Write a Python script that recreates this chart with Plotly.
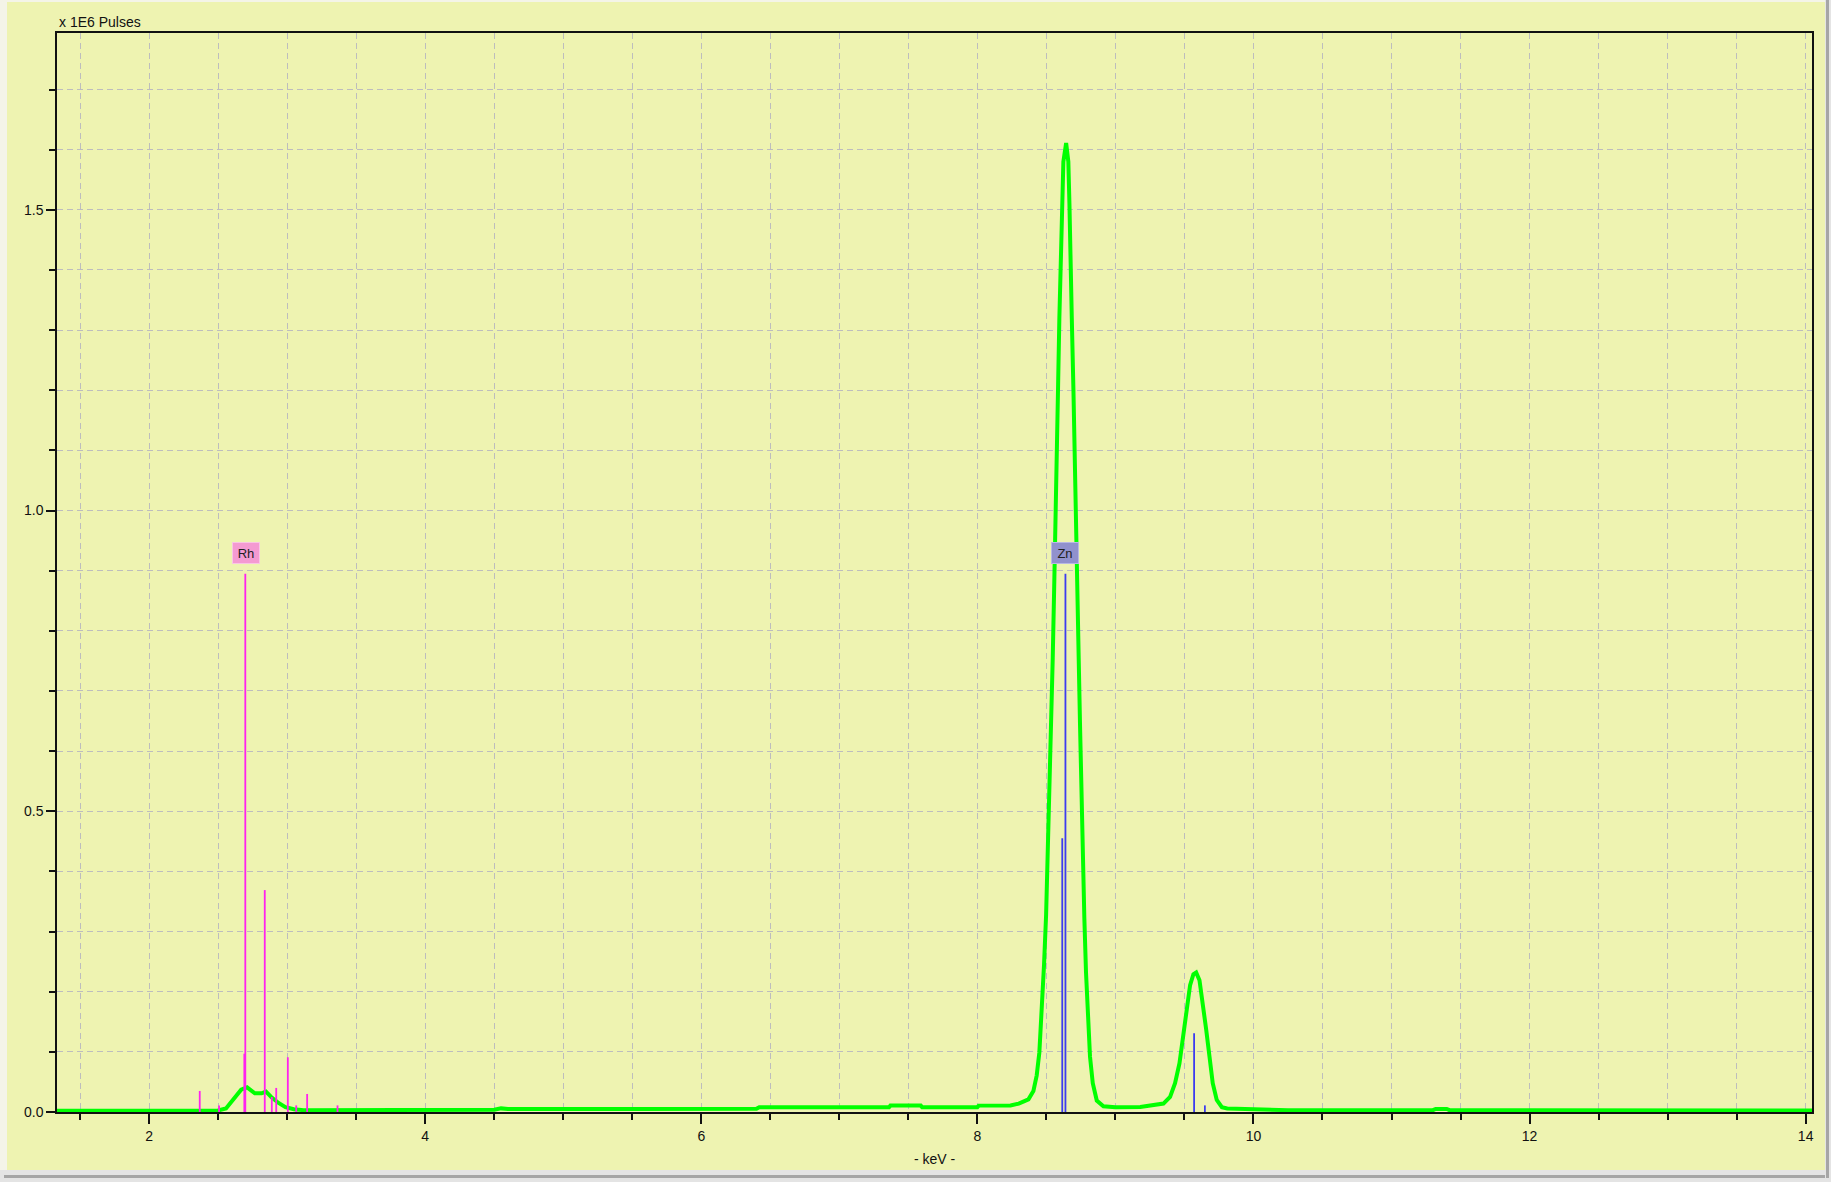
import plotly.graph_objects as go

# ---- data (values in units of 1E6 pulses) ----
spec_kev = [1.333, 2.0, 2.50, 2.557, 2.606, 2.667, 2.71, 2.766, 2.815, 2.847, 2.889, 2.938, 2.988,
            3.049, 3.12, 3.6, 4.2, 4.5, 4.55, 4.6, 5.5, 6.0, 6.4, 6.42, 6.7, 7.36, 7.37, 7.59, 7.60,
            8.0, 8.01, 8.24, 8.30, 8.37, 8.406, 8.430, 8.449, 8.466, 8.483, 8.498, 8.510, 8.522,
            8.534, 8.546, 8.558, 8.564, 8.572, 8.585, 8.594, 8.604, 8.611, 8.623, 8.643, 8.659,
            8.667, 8.672, 8.684, 8.696, 8.705, 8.713, 8.724, 8.734, 8.744, 8.754, 8.763, 8.775,
            8.787, 8.800, 8.816, 8.836, 8.865, 8.913, 9.0, 9.18, 9.275, 9.348, 9.396, 9.432, 9.464,
            9.488, 9.512, 9.541, 9.565, 9.585, 9.609, 9.633, 9.657, 9.681, 9.705, 9.734, 9.771,
            9.81, 9.98, 10.2, 10.25, 11.30, 11.32, 11.40, 11.42, 14.05]
spec_counts = [0.002, 0.002, 0.0025, 0.006, 0.019, 0.037, 0.041, 0.031, 0.031, 0.034, 0.024, 0.015, 0.008,
               0.0045, 0.003, 0.003, 0.0035, 0.0037, 0.006, 0.005, 0.005, 0.0052, 0.0055, 0.008, 0.0078,
               0.0079, 0.0106, 0.0106, 0.0078, 0.0080, 0.0106, 0.011, 0.014, 0.021, 0.035, 0.061, 0.099,
               0.162, 0.245, 0.328, 0.424, 0.519, 0.627, 0.755, 0.889, 0.98, 1.08, 1.21, 1.32, 1.42, 1.51,
               1.58, 1.611, 1.58, 1.51, 1.43, 1.32, 1.20, 1.07, 1.0, 0.889, 0.755, 0.640, 0.525, 0.424,
               0.322, 0.232, 0.162, 0.092, 0.048, 0.019, 0.0096, 0.008, 0.0084, 0.011, 0.014, 0.025,
               0.048, 0.081, 0.121, 0.166, 0.211, 0.229, 0.232, 0.219, 0.183, 0.138, 0.093, 0.048,
               0.020, 0.008, 0.006, 0.005, 0.004, 0.003, 0.003, 0.005, 0.005, 0.003, 0.0025]

rh_kev = [2.367, 2.507, 2.690, 2.697, 2.838, 2.889, 2.921, 3.005, 3.066, 3.145, 3.365]
rh_height = [0.035, 0.011, 0.097, 0.895, 0.369, 0.025, 0.040, 0.091, 0.011, 0.030, 0.011]

zn_kev = [8.615, 8.638, 9.570, 9.648]
zn_height = [0.455, 0.895, 0.131, 0.011]

element_labels = ["Rh", "Zn"]
element_label_kev = [2.70, 8.636]

x_tick_vals = [2, 4, 6, 8, 10, 12, 14]
y_tick_vals = [0.0, 0.5, 1.0, 1.5]

# ---- figure ----
W, H = 1831, 1182
ML, MR, MT, MB = 57, 19, 33, 70
PW, PH = W - ML - MR, H - MT - MB


def px_x(p):
    return (p - ML) / PW


def px_y(p):
    return (H - MB - p) / PH


def stems(xs, hs):
    X, Y = [], []
    for x, h in zip(xs, hs):
        X += [x, x, None]
        Y += [0, h, None]
    return X, Y


fig = go.Figure()
fig.add_trace(go.Scatter(x=spec_kev, y=spec_counts, mode="lines",
                         line=dict(color="#00FF00", width=4), hoverinfo="skip"))
rx, ry = stems(rh_kev, rh_height)
fig.add_trace(go.Scatter(x=rx, y=ry, mode="lines", line=dict(color="#FF22EE", width=1.8),
                         hoverinfo="skip"))
zx, zy = stems(zn_kev, zn_height)
fig.add_trace(go.Scatter(x=zx, y=zy, mode="lines", line=dict(color="#3C3CF0", width=1.8),
                         hoverinfo="skip"))

YELLOW = "#EEF3B1"
GRID = "#BDBDBD"
fig.update_layout(
    width=W, height=H,
    margin=dict(l=ML, r=MR, t=MT, b=MB),
    paper_bgcolor=YELLOW, plot_bgcolor=YELLOW,
    showlegend=False,
    font=dict(family="Liberation Sans, Arial, sans-serif", size=14, color="#111111"),
)
fig.update_xaxes(
    range=[1.333, 14.046], tickmode="array", tickvals=x_tick_vals,
    ticktext=[str(v) for v in x_tick_vals],
    ticks="outside", ticklen=10, tickwidth=1.5, tickcolor="#111",
    showline=True, linecolor="#111", linewidth=1.5, mirror=True,
    showgrid=True, gridcolor=GRID, griddash="6px,4px", gridwidth=1,
    zeroline=False,
    minor=dict(dtick=0.5, tick0=0, ticks="outside", ticklen=6, tickwidth=1.5, tickcolor="#111",
               showgrid=True, gridcolor=GRID, griddash="6px,4px", gridwidth=1),
)
fig.update_yaxes(
    range=[0, 1.794], tickmode="array", tickvals=y_tick_vals,
    ticktext=[f"{v:.1f}" for v in y_tick_vals],
    ticks="outside", ticklen=9, tickwidth=1.5, tickcolor="#111",
    showline=True, linecolor="#111", linewidth=1.5, mirror=True,
    showgrid=True, gridcolor=GRID, griddash="6px,4px", gridwidth=1,
    zeroline=False,
    minor=dict(dtick=0.1, tick0=0, ticks="outside", ticklen=6, tickwidth=1.5, tickcolor="#111",
               showgrid=True, gridcolor=GRID, griddash="6px,4px", gridwidth=1),
)

# window frame (light strips left/top, gray bars bottom/right)
shapes = [
    dict(type="rect", xref="paper", yref="paper", x0=px_x(0), x1=px_x(7), y0=px_y(H), y1=px_y(0),
         fillcolor="#F4F4E8", line_width=0, layer="below"),
    dict(type="rect", xref="paper", yref="paper", x0=px_x(0), x1=px_x(W), y0=px_y(2), y1=px_y(0),
         fillcolor="#F4F4E8", line_width=0, layer="below"),
    dict(type="rect", xref="paper", yref="paper", x0=px_x(0), x1=px_x(W), y0=px_y(H), y1=px_y(1170),
         fillcolor="#E4E4E4", line_width=0, layer="below"),
    dict(type="rect", xref="paper", yref="paper", x0=px_x(4), x1=px_x(1829), y0=px_y(1178), y1=px_y(1175),
         fillcolor="#A6A6A6", line_width=0, layer="below"),
    dict(type="rect", xref="paper", yref="paper", x0=px_x(1825), x1=px_x(W), y0=px_y(1178), y1=px_y(0),
         fillcolor="#E4E4E4", line_width=0, layer="below"),
    dict(type="rect", xref="paper", yref="paper", x0=px_x(1826), x1=px_x(1829), y0=px_y(1178), y1=px_y(0),
         fillcolor="#A6A6A6", line_width=0, layer="below"),
]
fig.update_layout(shapes=shapes)

ann = [
    dict(text="x 1E6 Pulses", xref="paper", yref="paper", x=0, y=px_y(22), xanchor="left",
         yanchor="middle", showarrow=False, font=dict(size=14, color="#111111")),
    dict(text="- keV -", xref="paper", yref="paper", x=0.5, y=px_y(1159), xanchor="center",
         yanchor="middle", showarrow=False, font=dict(size=14, color="#111111")),
]
label_styles = [("#F49AD2", "#F9C6E4"), ("#9191CD", "#B8B8E4")]
for name, kev, (fill, border) in zip(element_labels, element_label_kev, label_styles):
    ann.append(dict(text=name, x=kev, y=0.930, xref="x", yref="y", showarrow=False,
                    xanchor="center", yanchor="middle", bgcolor=fill, bordercolor=border,
                    borderwidth=1, borderpad=2, width=22, height=16,
                    font=dict(size=13, color="#222")))
fig.update_layout(annotations=ann)

fig.write_html("out.html", config={"displayModeBar": False},
               post_script="document.body.style.margin='0px';document.body.style.overflow='hidden';")
